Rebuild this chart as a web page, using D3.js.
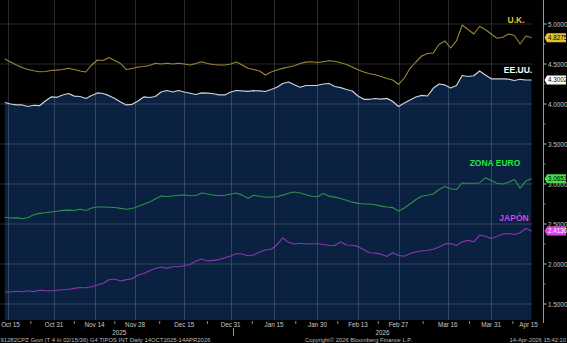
<!DOCTYPE html>
<html><head><meta charset="utf-8">
<script src="https://cdn.jsdelivr.net/npm/d3@7"></script>
<style>html,body{margin:0;padding:0;background:#000;overflow:hidden}svg{display:block}</style>
</head><body>
<svg id="c" width="567" height="343"></svg>
<script>
// ---- data ----
const dates = d3.timeDay.range(new Date(2025, 9, 14), new Date(2026, 3, 15), 2);
const uk = [4.563,4.525,4.488,4.456,4.431,4.416,4.404,4.406,4.419,4.423,
4.431,4.446,4.431,4.413,4.400,4.488,4.550,4.544,4.581,4.544,
4.506,4.431,4.444,4.463,4.469,4.481,4.509,4.500,4.509,4.500,
4.509,4.500,4.488,4.506,4.529,4.506,4.494,4.488,4.488,4.500,
4.525,4.488,4.446,4.431,4.413,4.363,4.400,4.425,4.445,4.463,
4.478,4.506,4.523,4.528,4.519,4.529,4.540,4.534,4.516,4.494,
4.463,4.429,4.400,4.378,4.365,4.344,4.319,4.300,4.244,4.325,
4.446,4.525,4.600,4.631,4.638,4.744,4.788,4.700,4.788,4.988,
4.931,4.875,4.969,4.931,4.875,4.821,4.834,4.875,4.856,4.750,
4.850,4.8275];
const us = [4.019,4.000,3.990,3.988,3.969,3.984,3.979,4.038,4.088,4.084,
4.113,4.131,4.098,4.094,4.069,4.106,4.138,4.131,4.104,4.069,
4.025,3.988,3.996,4.038,4.088,4.081,4.094,4.150,4.169,4.150,
4.169,4.150,4.134,4.119,4.140,4.135,4.128,4.115,4.113,4.150,
4.169,4.163,4.159,4.166,4.163,4.156,4.181,4.209,4.256,4.275,
4.240,4.209,4.231,4.231,4.234,4.250,4.256,4.219,4.204,4.181,
4.163,4.100,4.059,4.059,4.069,4.060,4.070,4.031,3.969,4.013,
4.050,4.088,4.108,4.100,4.196,4.250,4.238,4.200,4.231,4.356,
4.344,4.353,4.413,4.363,4.315,4.313,4.315,4.310,4.294,4.309,
4.300,4.3002];
const euro = [2.585,2.575,2.580,2.566,2.581,2.615,2.633,2.640,2.650,2.660,
2.670,2.673,2.669,2.684,2.669,2.700,2.713,2.713,2.709,2.706,
2.695,2.685,2.694,2.719,2.748,2.775,2.813,2.849,2.843,2.850,
2.860,2.863,2.853,2.856,2.888,2.874,2.863,2.853,2.859,2.875,
2.888,2.861,2.823,2.860,2.846,2.834,2.838,2.841,2.861,2.885,
2.899,2.888,2.865,2.846,2.840,2.881,2.848,2.836,2.819,2.796,
2.773,2.758,2.750,2.750,2.740,2.723,2.713,2.705,2.663,2.700,
2.750,2.806,2.846,2.859,2.875,2.931,2.968,2.940,2.931,3.013,
3.010,3.010,3.013,3.079,3.044,3.009,3.000,3.023,3.056,2.948,
3.038,3.0653];
const japan = [1.650,1.650,1.659,1.653,1.665,1.655,1.673,1.665,1.665,1.671,
1.678,1.685,1.695,1.706,1.703,1.715,1.738,1.760,1.803,1.813,
1.788,1.805,1.815,1.863,1.881,1.916,1.944,1.963,1.948,1.965,
1.966,1.978,1.994,2.038,2.063,2.038,2.045,2.055,2.079,2.100,
2.131,2.125,2.103,2.113,2.150,2.175,2.184,2.238,2.328,2.271,
2.249,2.260,2.250,2.253,2.253,2.243,2.234,2.231,2.278,2.238,
2.234,2.220,2.178,2.141,2.138,2.123,2.094,2.140,2.106,2.096,
2.131,2.150,2.166,2.168,2.185,2.213,2.251,2.256,2.231,2.278,
2.295,2.278,2.359,2.346,2.319,2.344,2.375,2.381,2.369,2.390,
2.444,2.4130];
const seriesNames = ["U.K.", "EE.UU.", "ZONA EURO", "JAPÓN"];
const lastValueLabels = ["4.8275", "4.3002", "3.0653", "2.4130"];
const yTicks = [1.5, 2.0, 2.5, 3.0, 3.5, 4.0, 4.5, 5.0];
const yMinorTicks = [1.75, 2.25, 2.75, 3.25, 3.75, 4.25, 4.75];
const xTickDates = ["2025-10-15","2025-10-31","2025-11-14","2025-11-28","2025-12-15","2025-12-31",
  "2026-01-15","2026-01-30","2026-02-13","2026-02-27","2026-03-16","2026-03-31","2026-04-15"];
const xTickLabels = ["Oct 15","Oct 31","Nov 14","Nov 28","Dec 15","Dec 31",
  "Jan 15","Jan 30","Feb 13","Feb 27","Mar 16","Mar 31","Apr 15"];
const yearLabels = ["2025", "2026"];
const footerLeft = "91282CPZ Govt (T 4 \u215B 02/15/36) G4 TIPOS INT Daily 14OCT2025-14APR2026";
const footerMid = "Copyright\u00A9 2026 Bloomberg Finance L.P.";
const footerRight = "14-Apr-2026 15:42:10";

// ---- styles ----
const lineColors = ["#9a8636", "#c9d2de", "#2c9149", "#8a36b2"];
const labelColors = ["#e8c22a", "#ffffff", "#22e83c", "#c845e8"];
const boxColors = ["#e8c22a", "#ffffff", "#3de24c", "#e040f0"];
const boxText = ["#000", "#000", "#000", "#fff"];
const labelPos = [[516, 20], [518, 70], [495, 163], [514, 218]];
const FONT = "'Liberation Sans', Arial, sans-serif";

const svg = d3.select("#c");
const W = 533, H = 320;
const parse = d3.timeParse("%Y-%m-%d");
const x = d3.scaleTime().domain([dates[0], dates[dates.length - 1]]).range([4.8, 531.7]);
const y = d3.scaleLinear().domain([1.3, 5.3]).range([H, 0]);

svg.append("rect").attr("width", 567).attr("height", 343).attr("fill", "#000");
svg.append("defs").append("clipPath").attr("id", "clip")
  .append("rect").attr("x", 0).attr("y", 0).attr("width", W).attr("height", H);
const plot = svg.append("g").attr("clip-path", "url(#clip)");

// navy area under EE.UU.
const usData = dates.map((d, i) => ({d, v: us[i]}));
plot.append("path").datum(usData)
  .attr("fill", "#0b2142")
  .attr("d", d3.area().x(p => x(p.d)).y0(H).y1(p => y(p.v)));
plot.append("rect").attr("x", x(dates[dates.length - 1])).attr("y", 0)
  .attr("width", W - x(dates[dates.length - 1])).attr("height", H).attr("fill", "#000");

// grid
plot.selectAll(".hg").data(yTicks).join("line")
  .attr("x1", 0).attr("x2", W).attr("y1", d => y(d)).attr("y2", d => y(d))
  .attr("stroke", "rgba(255,255,255,0.16)").attr("stroke-width", 1);
plot.selectAll(".vg").data(xTickDates.slice(0, -1)).join("line")
  .attr("x1", d => Math.round(x(parse(d))) + 0.5).attr("x2", d => Math.round(x(parse(d))) + 0.5)
  .attr("y1", 0).attr("y2", H)
  .attr("stroke", "rgba(255,255,255,0.16)").attr("stroke-width", 1);

// lines
const allSeries = [uk, us, euro, japan];
const line = d3.line().x(p => x(p.d)).y(p => y(p.v));
allSeries.forEach((s, k) => {
  plot.append("path").datum(dates.map((d, i) => ({d, v: s[i]})))
    .attr("fill", "none").attr("stroke", lineColors[k])
    .attr("stroke-width", k === 1 ? 1.2 : 1.1).attr("stroke-linejoin", "round")
    .attr("d", line);
});

// series labels
seriesNames.forEach((n, k) => {
  svg.append("text").attr("x", labelPos[k][0]).attr("y", labelPos[k][1])
    .attr("text-anchor", "middle").attr("dominant-baseline", "central")
    .attr("font-family", FONT).attr("font-weight", "bold").attr("font-size", 8.5)
    .attr("fill", labelColors[k]).text(n);
});

// right axis
const axisX = 543.5;
svg.append("line").attr("x1", axisX).attr("x2", axisX).attr("y1", 0).attr("y2", 323)
  .attr("stroke", "#9a9a9a").attr("stroke-width", 1);
svg.selectAll(".yt").data(yTicks).join("line")
  .attr("x1", axisX).attr("x2", axisX + 3).attr("y1", d => y(d)).attr("y2", d => y(d))
  .attr("stroke", "#bbb");
svg.selectAll(".ymt").data(yMinorTicks).join("line")
  .attr("x1", axisX).attr("x2", axisX + 2).attr("y1", d => y(d)).attr("y2", d => y(d))
  .attr("stroke", "#888");
svg.selectAll(".ytl").data(yTicks).join("text")
  .attr("x", axisX + 4.5).attr("y", d => y(d)).attr("dominant-baseline", "central")
  .attr("font-family", FONT).attr("font-size", 6.3).attr("fill", "#c8c8c8")
  .text(d => d3.format(".4f")(d));

// last value boxes
allSeries.forEach((s, k) => {
  const yy = y(s[s.length - 1]);
  const g = svg.append("g");
  g.append("path")
    .attr("d", `M${axisX + 1},${yy} L${axisX + 3.5},${yy - 4.5} L566,${yy - 4.5} L566,${yy + 4.5} L${axisX + 3.5},${yy + 4.5} Z`)
    .attr("fill", boxColors[k]);
  g.append("text").attr("x", axisX + 4.5).attr("y", yy).attr("dominant-baseline", "central")
    .attr("font-family", FONT).attr("font-size", 6.3).attr("fill", boxText[k])
    .text(lastValueLabels[k]);
});

// bottom axis
const xt = xTickDates.map(parse);
svg.selectAll(".xtl").data(xt).join("text")
  .attr("x", d => Math.max(10.5, Math.min(x(d), 528.5))).attr("y", 327)
  .attr("text-anchor", "middle")
  .attr("font-family", FONT).attr("font-size", 6.3).attr("fill", "#c8c8c8")
  .text((d, i) => xTickLabels[i]);
const mids = xt.slice(1).map((d, i) => new Date((d.getTime() + xt[i].getTime()) / 2));
svg.selectAll(".xmt").data(mids).join("line")
  .attr("x1", d => x(d)).attr("x2", d => x(d)).attr("y1", 321).attr("y2", 324)
  .attr("stroke", "#888");
const yearBreak = new Date(2026, 0, 1);
svg.append("line").attr("x1", x(yearBreak)).attr("x2", x(yearBreak)).attr("y1", 328).attr("y2", 336)
  .attr("stroke", "#999");
const yearMid = [new Date((dates[0].getTime() + yearBreak.getTime()) / 2),
                 new Date((yearBreak.getTime() + dates[dates.length - 1].getTime()) / 2)];
svg.selectAll(".yr").data(yearLabels).join("text")
  .attr("x", (d, i) => x(yearMid[i])).attr("y", 334.5).attr("text-anchor", "middle")
  .attr("font-family", FONT).attr("font-size", 6.3).attr("fill", "#c8c8c8").text(d => d);

// footer
svg.append("text").attr("x", 0.5).attr("y", 341.5).attr("font-family", FONT).attr("font-size", 5.8)
  .attr("fill", "#bbb").attr("textLength", 210).attr("lengthAdjust", "spacingAndGlyphs").text(footerLeft);
svg.append("text").attr("x", 305).attr("y", 341.5).attr("font-family", FONT).attr("font-size", 5.8)
  .attr("fill", "#bbb").attr("textLength", 107).attr("lengthAdjust", "spacingAndGlyphs").text(footerMid);
svg.append("text").attr("x", 566).attr("y", 341.5).attr("text-anchor", "end").attr("font-family", FONT)
  .attr("font-size", 5.8).attr("fill", "#bbb").text(footerRight);
</script>
</body></html>
